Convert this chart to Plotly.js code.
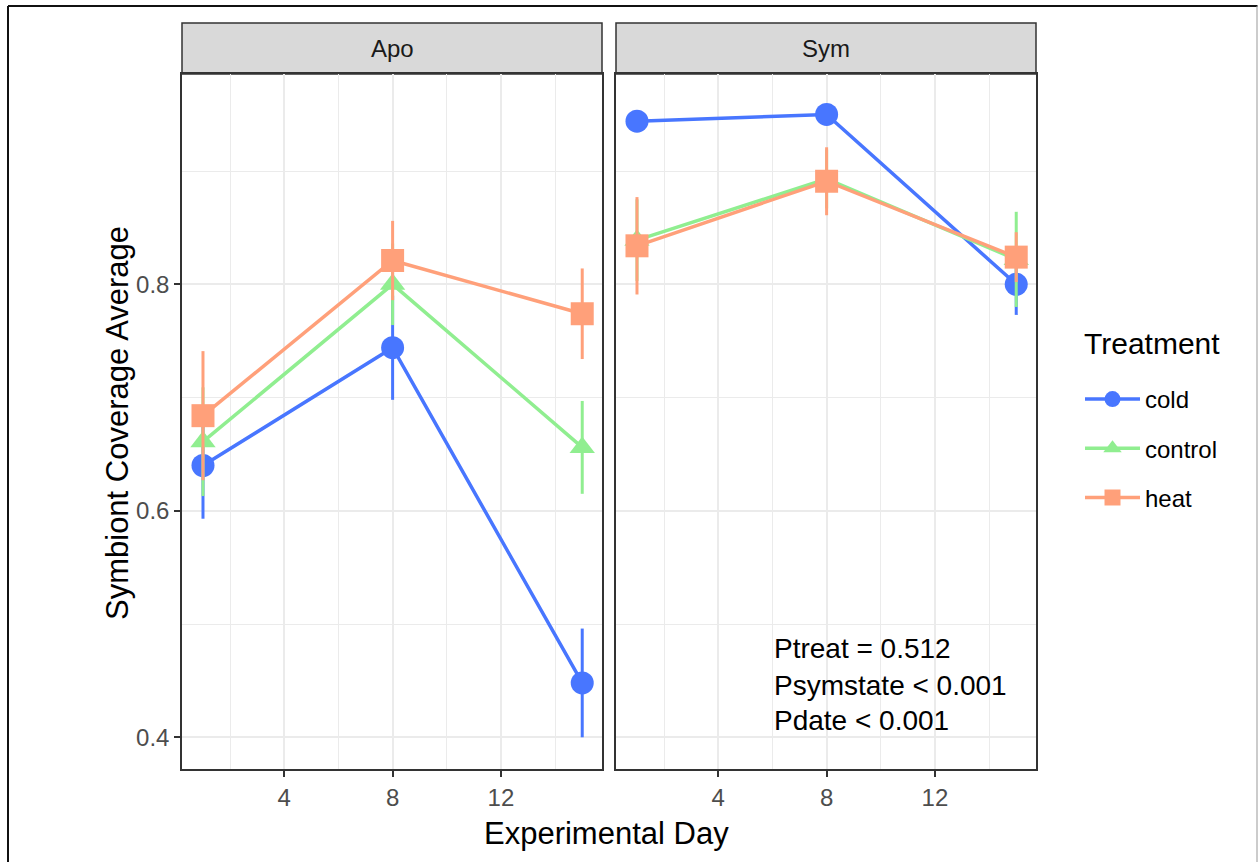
<!DOCTYPE html>
<html>
<head>
<meta charset="utf-8">
<script src="https://cdn.plot.ly/plotly-3.0.1.min.js"></script>
<style>
html,body{margin:0;padding:0;background:#fff;}
#chart{width:1258px;height:862px;}
</style>
</head>
<body>
<div id="chart"></div>
<script>
// ---- data ----
const days = [1, 8, 15];
const treatments = ["cold", "control", "heat"];
const panels = ["Apo", "Sym"];

const apoCold = [0.640, 0.744, 0.448];
const apoColdErr = [0.047, 0.046, 0.048];
const apoControl = [0.661, 0.800, 0.656];
const apoControlErr = [0.048, 0.036, 0.041];
const apoHeat = [0.684, 0.821, 0.774];
const apoHeatErr = [0.057, 0.035, 0.040];

const symCold = [0.944, 0.950, 0.800];
const symColdErr = [0.005, 0.005, 0.027];
const symControl = [0.839, 0.893, 0.822];
const symControlErr = [0.036, 0.026, 0.042];
const symHeat = [0.834, 0.891, 0.824];
const symHeatErr = [0.043, 0.030, 0.022];

const xTicks = [4, 8, 12];
const yTicks = [0.4, 0.6, 0.8];
const pLines = ["Ptreat = 0.512", "Psymstate < 0.001", "Pdate < 0.001"];

// ---- styles ----
const colors = {cold: "#4876FF", control: "#90EE90", heat: "#FFA07A"};
const symbols = {cold: "circle", control: "triangle-up", heat: "square"};
const msize = {cold: 23, control: 22, heat: 23};
const FONT = "Liberation Sans, Arial, sans-serif";

const W = 1258, H = 862;
const px = v => v / W;
const py = v => 1 - v / H;

const seriesData = {
  Apo: {cold: [apoCold, apoColdErr], control: [apoControl, apoControlErr], heat: [apoHeat, apoHeatErr]},
  Sym: {cold: [symCold, symColdErr], control: [symControl, symControlErr], heat: [symHeat, symHeatErr]}
};

const traces = [];
panels.forEach((p, pi) => {
  treatments.forEach(t => {
    const [vals, errs] = seriesData[p][t];
    traces.push({
      type: "scatter",
      mode: "lines+markers",
      x: days,
      y: vals,
      name: t,
      legendgroup: t,
      showlegend: pi === 0,
      xaxis: pi === 0 ? "x" : "x2",
      yaxis: pi === 0 ? "y" : "y2",
      line: {color: colors[t], width: 3.5},
      marker: {color: colors[t], symbol: symbols[t], size: msize[t]},
      error_y: {type: "data", array: errs, visible: true, color: colors[t], thickness: 3, width: 0},
      hoverinfo: "x+y+name"
    });
  });
});

const xRange = [0.225, 15.73];
const yRange = [0.372, 0.9857];

function xAxis(domain, anchor) {
  return {
    domain: domain, anchor: anchor, range: xRange,
    tickmode: "array", tickvals: xTicks, ticktext: xTicks.map(String),
    ticks: "outside", ticklen: 6, tickwidth: 1.5, tickcolor: "#333333",
    tickfont: {family: FONT, size: 24, color: "#4D4D4D"},
    showgrid: true, gridcolor: "#EBEBEB", gridwidth: 2,
    minor: {tick0: 0, dtick: 2, showgrid: true, gridcolor: "#EBEBEB", gridwidth: 1, ticks: ""},
    showline: true, mirror: true, linecolor: "#333333", linewidth: 1.5,
    zeroline: false, fixedrange: true
  };
}
function yAxis(domain, anchor, labels) {
  return {
    domain: domain, anchor: anchor, range: yRange,
    tickmode: "array", tickvals: yTicks, ticktext: yTicks.map(v => v.toFixed(1)),
    showticklabels: labels,
    ticks: labels ? "outside" : "", ticklen: 6, tickwidth: 1.5, tickcolor: "#333333",
    tickfont: {family: FONT, size: 24, color: "#4D4D4D"},
    showgrid: true, gridcolor: "#EBEBEB", gridwidth: 2,
    minor: {tick0: 0.3, dtick: 0.1, showgrid: true, gridcolor: "#EBEBEB", gridwidth: 1, ticks: ""},
    showline: true, mirror: true, linecolor: "#333333", linewidth: 1.5,
    zeroline: false, fixedrange: true
  };
}

const yDom = [py(769), py(74)];
const apoDom = [px(182), px(602)];
const symDom = [px(616), px(1036)];

const shapes = [
  // strips
  {type: "rect", xref: "paper", yref: "paper", x0: apoDom[0], x1: apoDom[1], y0: py(74), y1: py(23),
   fillcolor: "#D9D9D9", line: {color: "#333333", width: 1.5}, layer: "below"},
  {type: "rect", xref: "paper", yref: "paper", x0: symDom[0], x1: symDom[1], y0: py(74), y1: py(23),
   fillcolor: "#D9D9D9", line: {color: "#333333", width: 1.5}, layer: "below"},
  // outer frame
  {type: "line", xref: "paper", yref: "paper", x0: px(8), x1: px(8), y0: -0.1, y1: py(6), line: {color: "#111", width: 2}},
  {type: "line", xref: "paper", yref: "paper", x0: px(8), x1: px(1257.5), y0: py(6), y1: py(6), line: {color: "#111", width: 2}},
  {type: "line", xref: "paper", yref: "paper", x0: px(1257), x1: px(1257), y0: -0.1, y1: py(6), line: {color: "#999", width: 1}}
];

const annotations = [
  {text: panels[0], xref: "paper", yref: "paper", x: (apoDom[0] + apoDom[1]) / 2, y: py(49),
   xanchor: "center", yanchor: "middle", showarrow: false, font: {family: FONT, size: 24, color: "#1A1A1A"}},
  {text: panels[1], xref: "paper", yref: "paper", x: (symDom[0] + symDom[1]) / 2, y: py(49),
   xanchor: "center", yanchor: "middle", showarrow: false, font: {family: FONT, size: 24, color: "#1A1A1A"}},
  {text: "Experimental Day", xref: "paper", yref: "paper", x: px(606), y: py(833),
   xanchor: "center", yanchor: "middle", showarrow: false, font: {family: FONT, size: 31, color: "#000"}},
  {text: "Symbiont Coverage Average", xref: "paper", yref: "paper", x: px(118), y: py(423), textangle: -90,
   xanchor: "center", yanchor: "middle", showarrow: false, font: {family: FONT, size: 31, color: "#000"}},
  {text: "Treatment", xref: "paper", yref: "paper", x: px(1082), y: py(344),
   xanchor: "left", yanchor: "middle", showarrow: false, font: {family: FONT, size: 30, color: "#000"}}
];
const pY = [648, 685, 720];
pLines.forEach((t, i) => {
  annotations.push({text: t, xref: "paper", yref: "paper", x: px(772), y: py(pY[i]),
    xanchor: "left", yanchor: "middle", showarrow: false, font: {family: FONT, size: 28, color: "#000"}});
});

const layout = {
  width: W, height: H,
  margin: {l: 0, r: 0, t: 0, b: 0},
  paper_bgcolor: "#fff", plot_bgcolor: "#fff",
  font: {family: FONT},
  showlegend: true,
  legend: {
    x: px(1080), y: py(377), xanchor: "left", yanchor: "top",
    font: {family: FONT, size: 24, color: "#000"},
    itemwidth: 55,
    tracegroupgap: 15, bgcolor: "rgba(0,0,0,0)", borderwidth: 0
  },
  xaxis: xAxis(apoDom, "y"),
  yaxis: yAxis(yDom, "x", true),
  xaxis2: xAxis(symDom, "y2"),
  yaxis2: yAxis(yDom, "x2", false),
  shapes: shapes,
  annotations: annotations
};

Plotly.newPlot("chart", traces, layout, {displayModeBar: false});
</script>
</body>
</html>
